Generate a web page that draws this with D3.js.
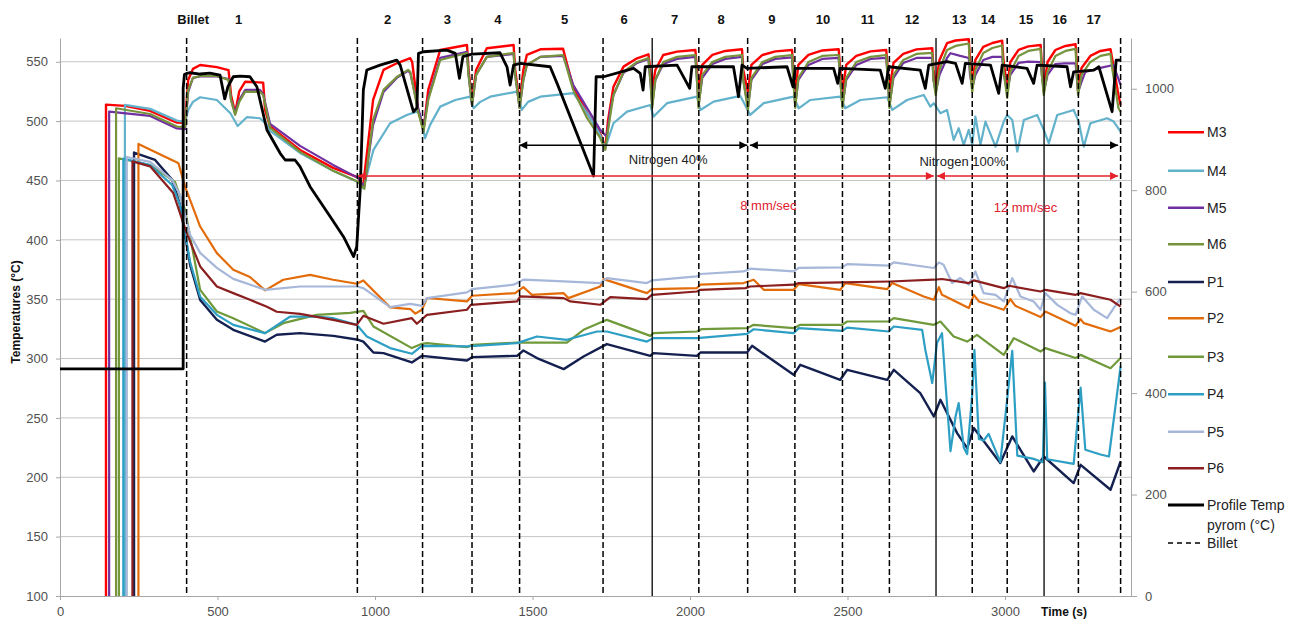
<!DOCTYPE html>
<html><head><meta charset="utf-8">
<script src="https://cdn.jsdelivr.net/npm/d3@7"></script>
<style>body{margin:0;background:#fff} svg{display:block;font-family:"Liberation Sans",Arial,sans-serif}</style>
</head><body><svg id="c" width="1300" height="619"></svg>
<script>
// ---------------- DATA (time s, temperature) ----------------
const M3 = [[146,100],[146,513.9],[206,512.8],[286,508.6],[371,498.7],[397,498.5],[407,534.7],[422,544],[445,547.3],[498,545.5],[535,543],[543,522],[556,506.9],[569,525],[588,533.2],[645,532.4],[651,509.4],[667,495.4],[762,475.7],[867,460.6],[946,452.6],[962,444.6],[994,517.8],[1027,543.1],[1069,548.7],[1112,553],[1118,549.8],[1137,509.4],[1154,492.6],[1169,526.3],[1207,559.9],[1292,564.1],[1297,543.1],[1308,517.8],[1321,543.1],[1355,561.4],[1440,564.1],[1445,543.1],[1459,515.3],[1471,543.1],[1482,555.7],[1525,560.5],[1597,561],[1609,548.7],[1629,529],[1673,506.9],[1715,489.8],[1731,477.4],[1740,501],[1757,529],[1789,545.9],[1832,552.9],[1868,556.3],[1874,543.1],[1880,526.3],[1890,543.1],[1915,555.7],[1959,558.5],[2017,559.9],[2022,543.1],[2027,526.3],[2039,547.3],[2071,555.7],[2112,559.1],[2165,560.5],[2169,543.1],[2184,524.6],[2195,547.3],[2230,555.7],[2271,558.7],[2324,559.9],[2328,543.1],[2334,524.6],[2344,547.3],[2376,555.7],[2420,559.5],[2472,560.5],[2477,543.1],[2484,524.6],[2496,547.3],[2528,554.9],[2573,558.7],[2623,559.9],[2628,543.1],[2633,524.6],[2646,549],[2677,556.6],[2719,560.4],[2769,561.4],[2773,543.1],[2780,530.5],[2792,551.5],[2816,565.6],[2843,567.9],[2885,568.9],[2889,551.5],[2896,530.5],[2906,551.5],[2931,562.5],[2960,565.8],[2991,567.8],[2995,551.5],[3007,527.9],[3017,549.8],[3043,559.9],[3074,562.9],[3113,564.1],[3117,547.3],[3123,526.3],[3135,549.8],[3160,559.9],[3192,563.3],[3224,564.7],[3228,547.3],[3232,526.3],[3243,544.8],[3271,554.9],[3303,559.1],[3335,560.5],[3341,551.5],[3360,522],[3367,513.6]];

const M4 = [[206,100],[206,513.6],[286,510.3],[371,500.4],[397,499.3],[407,509.4],[422,516.2],[445,520.1],[498,517.8],[541,506.6],[564,495.9],[593,503.3],[635,502.4],[657,496.8],[667,491.7],[762,473.2],[867,458.1],[946,448.8],[963,443.5],[995,475.7],[1048,498.2],[1101,505.2],[1133,508],[1143,505.2],[1159,485.6],[1175,496.8],[1207,512.2],[1255,517.8],[1302,520.6],[1313,510.8],[1334,516.2],[1366,520.6],[1451,524.8],[1466,509.4],[1486,516.2],[1525,520.6],[1630,523.5],[1645,517.8],[1683,502.7],[1715,488.4],[1731,477.4],[1757,498.2],[1800,508],[1874,513.6],[1884,503.8],[1927,515.1],[2022,520.6],[2033,509.4],[2075,516.4],[2160,521.2],[2191,505.2],[2234,515.1],[2329,520.6],[2345,510.8],[2382,517.8],[2477,520.6],[2493,510.8],[2541,517.8],[2626,520.1],[2642,509.4],[2689,517.8],[2742,522],[2763,512.2],[2774,515.1],[2795,506.6],[2816,509.4],[2837,484.2],[2853,494],[2869,480],[2885,492.6],[2896,480],[2906,503.8],[2922,480],[2938,499.6],[2970,478.5],[2996,499.6],[3007,505.2],[3023,501],[3039,474.3],[3060,501],[3102,505.2],[3123,492.6],[3139,481.4],[3166,505.2],[3218,509.4],[3234,499.6],[3250,478.5],[3271,498.2],[3324,502.4],[3345,499.6],[3367,491.2]];

const M5 = [[156,100],[156,508],[286,504.4],[371,493.8],[397,493.2],[407,524.6],[422,536.4],[445,537.6],[498,537.6],[535,535.5],[543,517.8],[556,506.9],[569,517.8],[588,526.3],[635,526.3],[645,522.9],[667,497.6],[762,479.1],[867,463.1],[946,452.2],[966,444.6],[994,496.8],[1027,524.6],[1069,536.4],[1105,542.3],[1112,540.6],[1137,511.1],[1154,494.3],[1169,519.5],[1207,553.2],[1292,558.3],[1297,538.9],[1308,513.6],[1321,538.9],[1355,554.1],[1440,556.6],[1445,538.9],[1459,511.1],[1471,534.7],[1482,547.3],[1525,554.1],[1597,554.9],[1609,546.5],[1629,530.5],[1673,511.1],[1715,492.6],[1736,486.9],[1747,509.4],[1757,522],[1789,540.6],[1832,549],[1868,552.4],[1874,534.7],[1880,513.6],[1890,534.7],[1915,548.1],[1959,552.4],[2017,554.1],[2022,534.7],[2027,513.6],[2039,536.4],[2071,548.1],[2112,552.4],[2165,554.1],[2169,534.7],[2184,511.9],[2195,534.7],[2230,548.1],[2271,552.4],[2324,553.6],[2328,534.7],[2334,513.6],[2344,534.7],[2376,547.3],[2420,552.4],[2472,553.2],[2477,534.7],[2484,513.6],[2496,534.7],[2528,547.3],[2573,552.4],[2623,553.2],[2628,534.7],[2633,513.6],[2646,536.4],[2677,549],[2719,553.2],[2769,553.2],[2773,534.7],[2780,524.6],[2792,538.9],[2816,553.2],[2827,557.2],[2858,554.9],[2885,553.2],[2889,538.9],[2896,528],[2906,538.9],[2931,551.5],[2960,554.1],[2991,554.1],[2995,541.4],[3007,524.6],[3017,538.9],[3043,549],[3074,550.1],[3113,549.8],[3117,538.9],[3123,524.6],[3135,538.9],[3160,548.1],[3192,548.7],[3224,548.7],[3228,536.4],[3232,524.6],[3243,533],[3255,541.4],[3303,544.8],[3344,547.3],[3367,530.5]];

const M6 = [[178,100],[178,510.8],[286,506],[371,495.4],[397,495.1],[407,526.3],[422,536.4],[445,538],[498,538],[535,534.7],[543,517.8],[556,505.2],[569,516.2],[588,524.8],[635,524.6],[645,522],[667,494.3],[762,474.1],[867,458.1],[946,449],[966,442.9],[994,501],[1027,526.3],[1069,537.2],[1105,543.1],[1112,541.5],[1137,507.7],[1154,490.9],[1169,517.8],[1207,551.5],[1292,557.4],[1297,538.9],[1308,513.6],[1321,538.9],[1355,554.1],[1440,557.4],[1445,538.9],[1459,511.1],[1471,534.7],[1482,547.3],[1525,554.1],[1597,555.7],[1609,544.8],[1629,526.3],[1673,502.7],[1715,485.8],[1731,475.7],[1740,492.6],[1757,522],[1789,541.4],[1832,549.8],[1868,553.2],[1874,534.7],[1880,511.1],[1890,534.7],[1915,549.8],[1959,554.1],[2017,555.7],[2022,534.7],[2027,511.1],[2039,538.9],[2071,549.8],[2112,554.1],[2165,555.7],[2169,534.7],[2184,509.4],[2195,536.4],[2230,549.8],[2271,554.1],[2324,555.7],[2328,534.7],[2334,511.1],[2344,536.4],[2376,549.8],[2420,554.9],[2472,555.7],[2477,534.7],[2484,511.1],[2496,536.4],[2528,549.8],[2573,554.1],[2623,555.7],[2628,534.7],[2633,511.1],[2646,538.9],[2677,551.5],[2719,556.6],[2769,557.4],[2773,534.7],[2780,522],[2792,543.1],[2816,559.9],[2843,563.3],[2885,565.4],[2889,543.1],[2896,524.6],[2906,543.1],[2931,557.4],[2960,561.6],[2991,563.7],[2995,543.1],[3007,519.5],[3017,541.4],[3043,554.9],[3074,559.1],[3113,560.8],[3117,538.9],[3123,522],[3135,541.4],[3160,554.9],[3192,559.1],[3224,560.8],[3228,538.9],[3232,522],[3243,538.9],[3271,549.8],[3303,554.9],[3335,556.6],[3341,543.1],[3360,511.1],[3367,507.7]];

const P1 = [[235,100],[235,473.5],[302,467.3],[356,450.5],[381,429.5],[413,378.9],[445,349.4],[498,332.6],[550,324.2],[651,314.3],[688,320],[762,321.4],[868,319.1],[947,315.8],[963,314.3],[995,305.1],[1027,304.6],[1117,296.7],[1149,302.3],[1292,298.4],[1308,301.2],[1451,302.3],[1471,306.8],[1514,300.4],[1599,291.1],[1662,301.7],[1736,312.2],[1874,302.3],[1884,304.6],[2022,302.3],[2033,305.1],[2181,305.1],[2197,310.7],[2329,286.3],[2350,294.7],[2477,282.1],[2499,290.5],[2626,282.1],[2647,290.5],[2731,270.9],[2774,251.2],[2795,265.3],[2848,237.2],[2880,224.6],[2901,241.5],[2985,212],[3023,234.4],[3091,204.9],[3123,217.5],[3218,195.1],[3240,210.5],[3335,189.5],[3367,213.3]];

const P2 = [[249,100],[249,480.8],[360,466.7],[376,464.5],[397,444.8],[445,411.2],[498,388.8],[550,374.8],[603,368.7],[651,357.4],[709,366.4],[794,370.5],[867,366.4],[942,363],[963,365.8],[1048,343.1],[1112,341.7],[1128,337.8],[1149,341.1],[1165,351],[1292,348.1],[1308,352.9],[1445,355.1],[1471,360.2],[1498,353.7],[1599,355.1],[1614,350.9],[1715,360.7],[1726,366.9],[1863,355.1],[1879,358.5],[2022,359.4],[2033,362.2],[2170,363.6],[2202,366.4],[2234,357.9],[2329,357.9],[2345,362.7],[2477,357.9],[2493,363.6],[2626,358.5],[2642,363.6],[2742,352.3],[2774,349.5],[2790,360.2],[2800,353.7],[2885,342.5],[2901,353.7],[2917,348.1],[2996,341.1],[3017,350.1],[3033,344.4],[3113,334.9],[3128,339.6],[3224,327.6],[3240,333.2],[3250,329.8],[3335,322.8],[3367,326.5]];

const P3 = [[187,100],[187,468.7],[286,463],[365,448.8],[397,425.2],[445,357.8],[498,339.6],[550,334],[651,321.4],[709,329.8],[815,336.8],[921,338.5],[963,340.2],[995,327],[1117,308.8],[1149,312.4],[1165,313],[1292,309.6],[1308,311.6],[1451,313.5],[1609,313.5],[1662,324.2],[1736,332.6],[1874,319.1],[1884,321.4],[2022,322.8],[2038,324.8],[2181,325.6],[2202,328.4],[2329,325.6],[2350,328.4],[2483,328.4],[2499,331.2],[2631,331.2],[2647,334.1],[2774,328.4],[2795,331.2],[2837,318.5],[2880,314.3],[2911,320],[2996,303.1],[3028,317.2],[3113,305.9],[3128,308.8],[3224,300.4],[3240,303.1],[3335,291.9],[3367,300.4]];

const P4 = [[201,100],[201,468.4],[286,463],[356,446.2],[381,429.5],[413,381.5],[445,352],[498,336.8],[550,328.4],[651,321.4],[731,335.4],[815,335.4],[868,334],[942,328.4],[974,318.6],[1048,308.8],[1117,304],[1149,310.7],[1292,310.2],[1451,313],[1514,318.6],[1609,315.8],[1705,322.8],[1736,322.8],[1863,314.3],[1884,317.2],[2022,317.2],[2181,320.8],[2202,324.7],[2329,321.4],[2345,325.6],[2483,323.3],[2499,326.1],[2631,322.8],[2647,327],[2737,324.2],[2747,307.4],[2769,279.4],[2784,313],[2800,321.4],[2811,279.4],[2827,222],[2843,251.2],[2853,262.5],[2869,225.1],[2880,219.5],[2896,270],[2903,307.4],[2917,232.3],[2933,231],[2948,236.6],[2985,212.7],[3007,265.8],[3023,306.5],[3039,218.3],[3091,215.5],[3120,212.7],[3127,279.7],[3134,215.2],[3218,211.3],[3240,275.5],[3255,223.2],[3303,219.2],[3330,217.5],[3367,293.5]];

const P5 = [[212,100],[212,469.8],[286,465.6],[356,450.5],[381,437.9],[413,404.2],[445,389],[498,376.4],[550,367.1],[651,357.9],[762,360.7],[942,360.7],[963,359.3],[1048,343.3],[1112,346.1],[1149,344.4],[1165,350.9],[1292,355.7],[1308,358.5],[1440,362.2],[1471,366.4],[1599,365],[1715,363.6],[1736,367.8],[1863,363.6],[1879,365.8],[2022,369.2],[2033,371.2],[2170,373.4],[2191,375.7],[2329,373.4],[2345,376.3],[2483,376.8],[2499,379.6],[2631,378.2],[2647,381],[2774,376.3],[2790,381],[2805,379],[2832,363.6],[2858,367.8],[2885,362.2],[2906,373.4],[2932,355.1],[2970,353.7],[2996,348.1],[3023,367.8],[3049,352.3],[3091,348.1],[3113,341.1],[3128,355.1],[3166,345.2],[3208,338.2],[3224,336.8],[3245,352.3],[3282,341.1],[3324,334],[3345,342.5],[3367,350.9]];

const P6 = [[230,100],[230,466.1],[286,461.9],[359,439.7],[402,405.9],[445,377.6],[498,360.7],[550,355.1],[603,349.5],[657,343.6],[688,339.4],[762,337.7],[867,332.6],[942,328.4],[963,336],[1027,329.3],[1117,334],[1133,329.3],[1165,336.8],[1292,341.1],[1304,345.2],[1451,348.1],[1461,352.3],[1599,350.9],[1620,348.1],[1715,345.3],[1747,351.8],[1863,350.1],[1879,353.7],[2022,356.5],[2033,357.9],[2176,359.3],[2191,360.7],[2329,362.2],[2345,363.6],[2483,364.1],[2636,364.9],[2774,366.4],[2800,367],[2885,363.6],[2901,365.8],[2996,359.3],[3012,361.3],[3113,356.5],[3128,357.9],[3224,353.7],[3240,355.1],[3335,349.5],[3367,343.8]];

// Profile temperature (pyrometer, right axis)
const PROFILE = [[0,447.8],[391,447.8],[391,1001.4],[395,1028],[403,1030.3],[413,1031.5],[445,1029],[476,1030.9],[508,1027],[523,980],[533,1003.9],[550,1023.6],[572,1025],[603,1023.6],[625,1003.9],[657,918.6],[699,872.7],[715,859.5],[746,859.5],[762,846.3],[794,806.9],[858,747.8],[900,708.4],[932,669],[942,688.7],[953,800.4],[963,997.4],[974,1036.8],[1016,1046.6],[1069,1056.5],[1080,1046.6],[1122,954.7],[1133,962],[1138,1069.7],[1154,1072.9],[1228,1076.2],[1255,1069.7],[1268,1020.5],[1279,1063.1],[1308,1068.3],[1397,1070.9],[1419,1043.3],[1429,1007.3],[1440,1046.6],[1461,1050],[1556,1043.3],[1578,1010.6],[1694,828],[1702,1023.6],[1726,1023.6],[1821,1040.2],[1842,1030.3],[1851,997.4],[1858,1043.3],[1959,1046.6],[1985,1017.1],[1999,1000.8],[2006,1043.3],[2138,1043.3],[2154,984.2],[2165,1046.6],[2181,1040.2],[2308,1043.3],[2327,1003.9],[2334,1040.2],[2456,1040.2],[2469,1010.6],[2477,1040.2],[2604,1036.8],[2620,1000.8],[2631,1043.3],[2731,1036.8],[2747,1000.8],[2758,1046.6],[2816,1053.2],[2843,1050],[2864,1010.6],[2874,1050],[2954,1046.6],[2980,990.9],[2991,1046.6],[3070,1040.2],[3091,1010.6],[3102,1046.6],[3197,1043.3],[3208,1003.9],[3218,1033.4],[3282,1036.8],[3298,1043.3],[3340,954.7],[3353,1056.5],[3367,1056.5]];

const billetTimes = [402, 944, 1151, 1308, 1459, 1724, 2028, 2183, 2333, 2484, 2633, 2896, 3007, 3233, 3367];
const markerTimes = [1880, 2781, 3124];
const cycleLabels = ["Billet","1","2","3","4","5","6","7","8","9","10","11","12","13","14","15","16","17"];
const cycleLabelTimes = [423,567,1040,1230,1390,1602,1791,1951,2099,2260,2422,2564,2705,2855,2946,3067,3174,3282];
const leftTicks = [100,150,200,250,300,350,400,450,500,550];
const rightTicks = [0,200,400,600,800,1000];
const xTicks = [0,500,1000,1500,2000,2500,3000];
const nitrogenLabels = ["Nitrogen 40%","Nitrogen 100%"];
const nitrogenSpans = [[1458,2182],[2190,3359]];
const speedLabels = ["8 mm/sec","12 mm/sec"];
const speedSpans = [[946,2774],[2784,3359]];

// ---------------- STYLE ----------------
const seriesList = [
  {name:"M3", data:M3, color:"#ff0000", w:2.4},
  {name:"M4", data:M4, color:"#63b2cc", w:2.2},
  {name:"M5", data:M5, color:"#7030a0", w:2.2},
  {name:"M6", data:M6, color:"#77933c", w:2.2},
  {name:"P1", data:P1, color:"#14204f", w:2.4},
  {name:"P2", data:P2, color:"#e36c0a", w:2.2},
  {name:"P3", data:P3, color:"#70993a", w:2.2},
  {name:"P4", data:P4, color:"#2e9fc4", w:2.2},
  {name:"P5", data:P5, color:"#a6b7d9", w:2.2},
  {name:"P6", data:P6, color:"#8b1f1f", w:2.2},
];

const svg = d3.select("#c");
const X0 = 60, X1 = 1131, Y0 = 596, Y1 = 38;
const x = d3.scaleLinear().domain([0,3400]).range([X0,X1]);
const yL = d3.scaleLinear().domain([100,570]).range([Y0,Y1]);
const yR = d3.scaleLinear().domain([0,1100]).range([Y0,Y1]);

// grid
svg.append("g").selectAll("line").data(leftTicks.filter(d=>d>100)).join("line")
  .attr("x1",X0).attr("x2",X1).attr("y1",d=>yL(d)).attr("y2",d=>yL(d))
  .attr("stroke","#c4c4c4").attr("stroke-width",1);

function styleAxis(g){
  g.select(".domain").attr("stroke","#a6a6a6");
  g.selectAll(".tick line").attr("stroke","#a6a6a6");
  g.selectAll("text").attr("fill","#505050").attr("font-size",13).attr("font-family","Liberation Sans, Arial, sans-serif");
}
svg.append("g").attr("transform",`translate(${X0},0)`)
  .call(d3.axisLeft(yL).tickValues(leftTicks).tickSize(4).tickPadding(8).tickSizeOuter(0)).call(styleAxis);
svg.append("g").attr("transform",`translate(0,${Y0})`)
  .call(d3.axisBottom(x).tickValues(xTicks).tickFormat(d3.format("d")).tickSize(4).tickPadding(7).tickSizeOuter(0)).call(styleAxis);
svg.append("g").attr("transform",`translate(${X1},0)`)
  .call(d3.axisRight(yR).tickValues(rightTicks).tickFormat(d3.format("d")).tickSize(6).tickPadding(8).tickSizeOuter(0)).call(styleAxis);

// series
const lineL = d3.line().x(d=>x(d[0])).y(d=>yL(d[1]));
const lineR = d3.line().x(d=>x(d[0])).y(d=>yR(d[1]));
const gS = svg.append("g");
seriesList.forEach(s=>{
  gS.append("path").attr("d",lineL(s.data)).attr("fill","none")
    .attr("stroke",s.color).attr("stroke-width",s.w).attr("stroke-linejoin","round");
});
gS.append("path").attr("d",lineR(PROFILE)).attr("fill","none")
  .attr("stroke","#000").attr("stroke-width",2.8).attr("stroke-linejoin","round");

// billet lines
svg.append("g").selectAll("line").data(billetTimes).join("line")
  .attr("x1",d=>x(d)).attr("x2",d=>x(d)).attr("y1",Y1).attr("y2",Y0)
  .attr("stroke","#000").attr("stroke-width",1.5).attr("stroke-dasharray","6,3");
svg.append("g").selectAll("line").data(markerTimes).join("line")
  .attr("x1",d=>x(d)).attr("x2",d=>x(d)).attr("y1",Y1).attr("y2",Y0)
  .attr("stroke","#000").attr("stroke-width",1.3);

// arrow markers
const defs = svg.append("defs");
[["ab","#000"],["ar","#e8222a"]].forEach(([id,c])=>{
  defs.append("marker").attr("id",id).attr("viewBox","0 0 10 10").attr("refX",10).attr("refY",5)
    .attr("markerUnits","userSpaceOnUse").attr("markerWidth",9).attr("markerHeight",8)
    .attr("orient","auto-start-reverse")
    .append("path").attr("d","M0,0L10,5L0,10z").attr("fill",c);
});
const nitY = 479.7, speedY = 453.8;
nitrogenSpans.forEach(s=>{
  svg.append("line").attr("x1",x(s[0])).attr("x2",x(s[1])).attr("y1",yL(nitY)).attr("y2",yL(nitY))
    .attr("stroke","#000").attr("stroke-width",1.6)
    .attr("marker-start","url(#ab)").attr("marker-end","url(#ab)");
});
speedSpans.forEach(s=>{
  svg.append("line").attr("x1",x(s[0])).attr("x2",x(s[1])).attr("y1",yL(speedY)).attr("y2",yL(speedY))
    .attr("stroke","#e8222a").attr("stroke-width",1.6)
    .attr("marker-start","url(#ar)").attr("marker-end","url(#ar)");
});
const nitText = [[1931,467.3],[2865,465.6]];
nitrogenLabels.forEach((t,i)=>{
  svg.append("text").attr("x",x(nitText[i][0])).attr("y",yL(nitText[i][1])).attr("dy","0.35em")
    .attr("text-anchor","middle").attr("font-size",13).attr("fill","#222").text(t);
});
const spdText = [[2249,428.6],[3065,426.9]];
speedLabels.forEach((t,i)=>{
  svg.append("text").attr("x",x(spdText[i][0])).attr("y",yL(spdText[i][1])).attr("dy","0.35em")
    .attr("text-anchor","middle").attr("font-size",13).attr("fill","#e0202e").text(t);
});

// cycle labels
svg.append("g").selectAll("text").data(cycleLabels).join("text")
  .attr("x",(d,i)=>x(cycleLabelTimes[i])).attr("y",19).attr("dy","0.35em")
  .attr("text-anchor","middle").attr("font-weight","bold").attr("font-size",13).attr("fill","#111")
  .text(d=>d);

// axis titles
svg.append("text").attr("transform","translate(16,312) rotate(-90)").attr("text-anchor","middle")
  .attr("dy","0.35em").attr("font-weight","bold").attr("font-size",12).attr("fill","#111").text("Temperatures (°C)");
svg.append("text").attr("x",1064).attr("y",612).attr("dy","0.35em").attr("text-anchor","middle")
  .attr("font-weight","bold").attr("font-size",12).attr("fill","#111").text("Time (s)");

// legend
const lg = svg.append("g");
const lx0 = 1168, lx1 = 1204, ltx = 1207;
const rows = [132.3,170.7,207.7,244.3,282,318.3,356.7,394.3,431.7,468.3];
seriesList.forEach((s,i)=>{
  lg.append("line").attr("x1",lx0).attr("x2",lx1).attr("y1",rows[i]).attr("y2",rows[i])
    .attr("stroke",s.color).attr("stroke-width",2.4);
  lg.append("text").attr("x",ltx).attr("y",rows[i]).attr("dy","0.35em").attr("font-size",14).attr("fill","#222").text(s.name);
});
lg.append("line").attr("x1",lx0).attr("x2",lx1).attr("y1",505).attr("y2",505).attr("stroke","#000").attr("stroke-width",2.8);
lg.append("text").attr("x",ltx).attr("y",505).attr("dy","0.35em").attr("font-size",14).attr("fill","#222").text("Profile Temp");
lg.append("text").attr("x",ltx).attr("y",525).attr("dy","0.35em").attr("font-size",14).attr("fill","#222").text("pyrom (°C)");
lg.append("line").attr("x1",lx0).attr("x2",lx1).attr("y1",543).attr("y2",543).attr("stroke","#000").attr("stroke-width",1.6).attr("stroke-dasharray","5,4");
lg.append("text").attr("x",ltx).attr("y",543).attr("dy","0.35em").attr("font-size",14).attr("fill","#222").text("Billet");
</script></body></html>
